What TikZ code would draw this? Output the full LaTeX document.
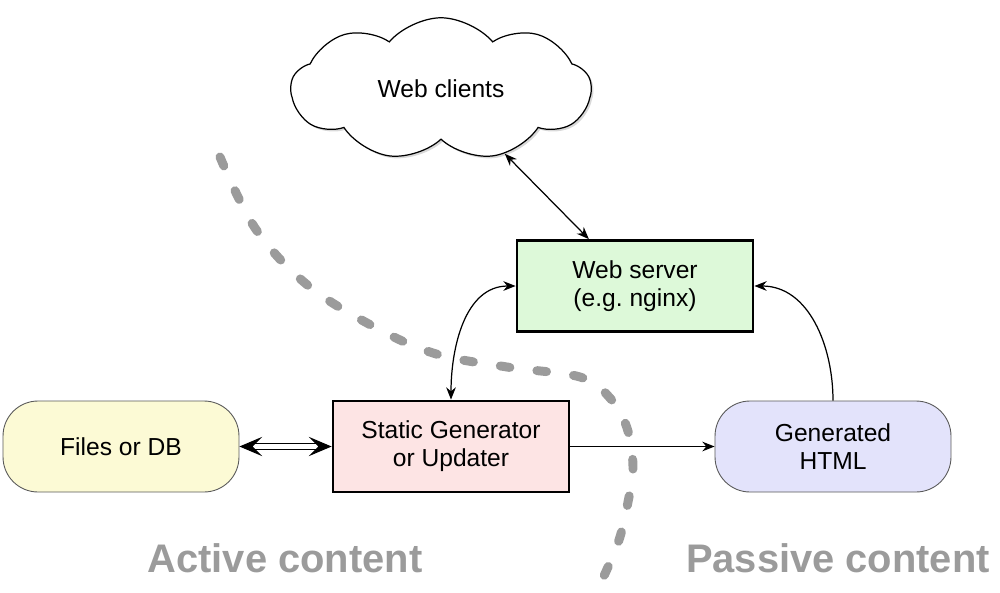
\documentclass[tikz,border=0pt]{standalone}
\usepackage{fontspec}
\setmainfont{Liberation Sans}
\usetikzlibrary{arrows.meta,shapes.symbols,shadows}
\definecolor{serverfill}{HTML}{DDF9D9}
\definecolor{genfill}{HTML}{FDE4E4}
\definecolor{filesfill}{HTML}{FCFAD5}
\definecolor{htmlfill}{HTML}{E3E3FB}
\definecolor{splitgray}{HTML}{9B9B9B}
\tikzset{
	boxtext/.style={align=center, font=\fontsize{14}{15.8}\selectfont},
	sharpbox/.style={boxtext, draw=black, line width=1.6pt, minimum width=4.72cm, minimum height=1.82cm},
	roundbox/.style={boxtext, draw=black!65, line width=0.5pt, rounded corners=0.7cm, minimum width=4.72cm, minimum height=1.82cm},
	link/.style={line width=0.7pt, {Stealth[length=7pt,width=5.5pt]}-{Stealth[length=7pt,width=5.5pt]}},
	onelink/.style={line width=0.7pt, -{Stealth[length=7pt,width=5.5pt]}},
	sidelabel/.style={text=splitgray, font=\bfseries\fontsize{22.7}{26}\selectfont},
}

\begin{document}
\begin{tikzpicture}[x=0.02cm, y=-0.02cm]
		%%%%% START %%%%%
		\useasboundingbox (0, 0) rectangle (1000, 592);
		
		\draw[splitgray, line width=5.1pt, line cap=round, dash pattern=on 5.5pt off 15.5pt] plot[smooth, tension=0.6] coordinates {(220, 157) (255, 228) (305, 283) (367, 323) (433, 353) (507, 367) (580, 377) (610, 398) (627, 428) (633, 467) (628, 502) (619, 540) (603, 578)};
		
		\node[cloud, draw=black, fill=white, line width=0.7pt, cloud puffs=9, cloud puff arc=100, cloud ignores aspect, minimum width=6cm, minimum height=2.85cm, boxtext, drop shadow={opacity=0.3, shadow xshift=1.2pt, shadow yshift=-1.2pt}] (clients) at (441, 89) {Web clients};
		
		\node[sharpbox, fill=serverfill] (server) at (635, 286) {Web server\\(e.g.\ nginx)};
		\node[sharpbox, fill=genfill] (gen) at (451, 446.5) {Static Generator\\or Updater};
		\node[roundbox, fill=filesfill] (files) at (121, 446.5) {Files or DB};
		\node[roundbox, fill=htmlfill] (html) at (833, 446.5) {Generated\\HTML};
		
		\draw[link] (clients) -- (server);
		\draw[link] (gen.north) to[out=90, in=180] (server.west);
		\draw[onelink] (gen.east) -- (html.west);
		\draw[onelink] (html.north) to[out=90, in=0] (server.east);
		\draw[double, double distance=2.4pt, line width=0.6pt, {Stealth[length=13pt,width=11pt,inset=5.5pt]}-{Stealth[length=13pt,width=11pt,inset=5.5pt]}] (files.east) -- (gen.west);
		
		\node[sidelabel] (active) at (285, 558) {Active content};
		\node[sidelabel] (passive) at (838, 558) {Passive content};
		%%%%% END %%%%%
	\end{tikzpicture}
\end{document}
